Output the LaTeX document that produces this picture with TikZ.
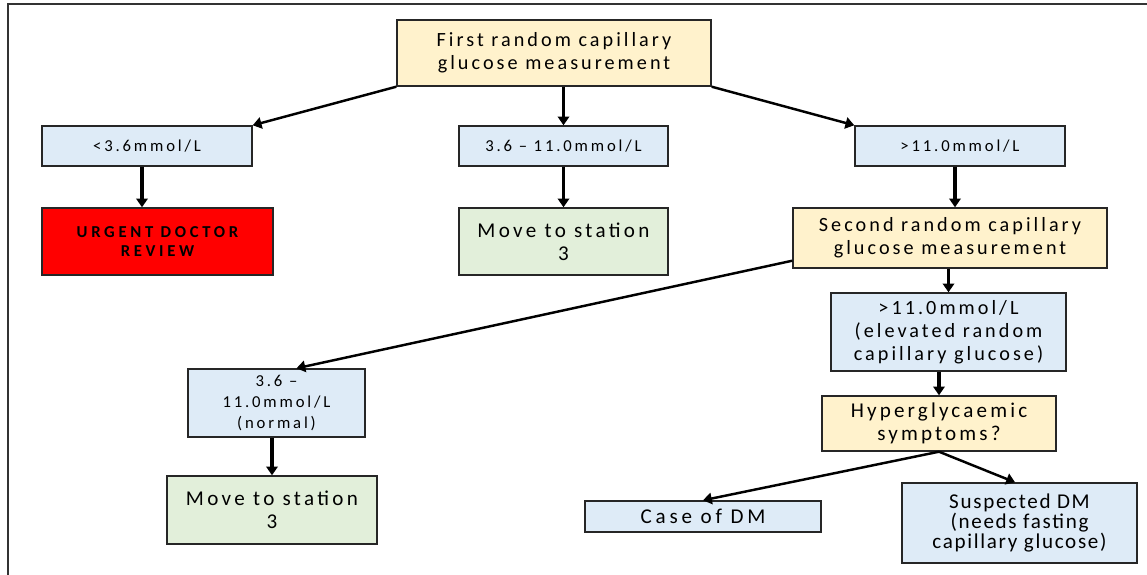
\documentclass[tikz,border=0pt]{standalone}
\usepackage{fontspec}
\setmainfont{Carlito}
\usetikzlibrary{arrows.meta}

\definecolor{boxorange}{HTML}{FFF2CC}
\definecolor{boxblue}{HTML}{DEEBF7}
\definecolor{boxgreen}{HTML}{E2EFDA}
\definecolor{boxred}{HTML}{FF0000}

% size, leading, letter spacing
\newcommand{\cardfont}[3]{\fontsize{#1}{#2}\selectfont\addfontfeatures{LetterSpace=#3}}

\tikzset{
	card/.style={draw=black!85,line width=0.8pt,inner sep=0pt,align=center,
		font=\cardfont{11.5}{13}{15}},
	measurebox/.style={card,fill=boxorange},
	rangebox/.style={card,fill=boxblue},
	smallrange/.style={rangebox,font=\cardfont{9.5}{12}{17}},
	stationbox/.style={card,fill=boxgreen,font=\cardfont{12}{13}{16}},
	urgentbox/.style={card,fill=boxred,font=\bfseries\cardfont{9.5}{11}{22}},
	flowline/.style={->,line width=1.4pt},
	dropline/.style={->,line width=1.8pt}
}

\begin{document}
\begin{tikzpicture}[x=0.02cm,y=-0.02cm,>={Triangle[length=5pt,width=6.5pt]}]
	\useasboundingbox (0,0) rectangle (1147,575);
	\draw[line width=1.2pt,black!80] (1147,4) -- (8,4) -- (8,575);

	% first measurement and its three outcomes
	\node[measurebox,minimum width=314*0.02cm,minimum height=66*0.02cm] (first) at (554,53) {First random capillary\\glucose measurement};
	\node[smallrange,minimum width=210*0.02cm,minimum height=40*0.02cm] (low) at (147,146) {<3.6mmol/L};
	\node[smallrange,minimum width=209*0.02cm,minimum height=40*0.02cm] (mid) at (563.5,146) {3.6 – 11.0mmol/L};
	\node[smallrange,minimum width=210*0.02cm,minimum height=40*0.02cm] (high) at (960,146) {>11.0mmol/L};
	\node[urgentbox,minimum width=231*0.02cm,minimum height=67*0.02cm] (review) at (157.5,241.5) {URGENT DOCTOR\\REVIEW};
	\node[stationbox,minimum width=209*0.02cm,minimum height=67*0.02cm] (stationA) at (563.5,241.5) {Move to station\\3};

	% second measurement
	\node[measurebox,minimum width=314*0.02cm,minimum height=60*0.02cm] (second) at (950,238) {Second random capillary\\glucose measurement};
	\node[rangebox,minimum width=235*0.02cm,minimum height=78*0.02cm] (elevated) at (948.5,332) {>11.0mmol/L\\(elevated random\\capillary glucose)};
	\node[measurebox,font=\cardfont{12}{13}{15},minimum width=234*0.02cm,minimum height=55*0.02cm] (symptoms) at (939,423.5) {Hyperglycaemic\\symptoms?};
	\node[smallrange,minimum width=177*0.02cm,minimum height=68*0.02cm] (normal) at (276.5,403) {3.6 –\\11.0mmol/L\\(normal)};
	\node[stationbox,minimum width=210*0.02cm,minimum height=68*0.02cm] (stationB) at (272,510) {Move to station\\3};
	\node[rangebox,font=\cardfont{12}{13}{18},minimum width=236*0.02cm,minimum height=31*0.02cm] (dmcase) at (703,516.5) {Case of DM};
	\node[rangebox,font=\cardfont{12}{11.5}{8},minimum width=235*0.02cm,minimum height=80*0.02cm] (suspect) at (1019.5,523) {Suspected DM\\(needs fasting\\capillary glucose)};

	% connectors
	\draw[flowline] (first.south west) -- (low.north east);
	\draw[dropline] (first.south -| mid.north) -- (mid.north);
	\draw[flowline] (first.south east) -- (high.north west);
	\draw[dropline] ([xshift=-0.1cm]low.south) -- ([xshift=-0.1cm]low.south |- review.north);
	\draw[dropline] (mid.south) -- (stationA.north);
	\draw[dropline] ([xshift=-0.1cm]high.south) -- ([xshift=-0.1cm]high.south |- second.north);
	\draw[flowline] ([yshift=0.16cm]second.south west) -- ([xshift=0.4cm]normal.north);
	\draw[dropline] (elevated.north |- second.south) -- (elevated.north);
	\draw[dropline] (symptoms.north |- elevated.south) -- (symptoms.north);
	\draw[dropline] (normal.south -| stationB.north) -- (stationB.north);
	\draw[flowline] (symptoms.south) -- (dmcase.north);
	\draw[flowline] (symptoms.south) -- ([xshift=-0.09cm]suspect.north);
\end{tikzpicture}
\end{document}
